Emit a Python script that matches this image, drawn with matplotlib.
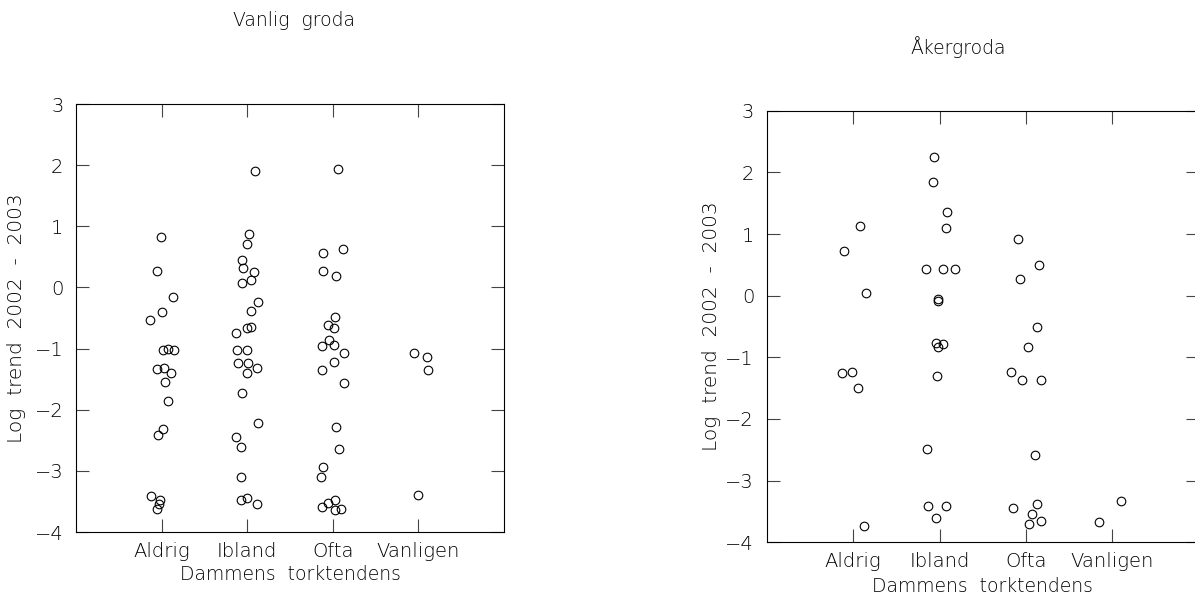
import numpy as np
import matplotlib.pyplot as plt

plt.rcParams['font.family'] = ['DejaVu Sans']
plt.rcParams['font.weight'] = 'light'
plt.rcParams['axes.labelweight'] = 'light'

# kategorier på x-axeln
kategorier = ["Aldrig", "Ibland", "Ofta", "Vanligen"]

# Vanlig groda: (x med jitter, log trend)
vanlig_x = [0.99, 0.95, 1.13, 1.00, 0.87, 1.02, 1.08, 1.14, 0.95, 1.03, 1.11, 1.04,
            1.08, 1.02, 0.96, 0.88, 0.98, 0.97, 0.95,
            2.09, 2.02, 2.00, 1.94, 1.95, 2.08, 2.04, 1.94, 2.13, 2.05, 2.00, 2.05,
            1.87, 1.88, 2.00, 1.89, 2.01, 2.11, 2.00, 1.94, 2.13, 1.87, 1.93, 1.93,
            1.93, 2.00, 2.12,
            3.06, 2.88, 3.12, 2.89, 3.04, 3.02, 2.94, 3.01, 2.96, 2.87, 3.01, 3.13,
            3.01, 2.87, 3.13, 3.04, 3.07, 2.88, 2.86, 3.03, 2.94, 2.87, 3.02, 3.10,
            3.95, 4.10, 4.11, 4.00]
vanlig_y = [0.82, 0.27, -0.16, -0.41, -0.54, -1.03, -1.01, -1.03, -1.34, -1.32, -1.40, -1.55,
            -1.86, -2.32, -2.41, -3.41, -3.48, -3.54, -3.62,
            1.91, 0.87, 0.71, 0.45, 0.32, 0.26, 0.12, 0.07, -0.24, -0.38, -0.67, -0.65,
            -0.74, -1.03, -1.03, -1.23, -1.24, -1.31, -1.40, -1.73, -2.22, -2.44, -2.61, -3.10,
            -3.48, -3.44, -3.54,
            1.94, 0.56, 0.63, 0.27, 0.18, -0.49, -0.61, -0.66, -0.86, -0.95, -0.94, -1.07,
            -1.22, -1.35, -1.56, -2.29, -2.64, -2.93, -3.10, -3.48, -3.53, -3.59, -3.64, -3.62,
            -1.07, -1.14, -1.35, -3.39]

# Åkergroda
aker_x = [1.08, 0.90, 1.15, 0.87, 0.99, 1.06, 1.13,
          1.94, 1.93, 2.09, 2.07, 1.84, 2.04, 2.18, 1.98, 1.98, 1.96, 2.04, 1.98,
          1.97, 1.85, 1.87, 2.08, 1.96,
          2.91, 3.15, 2.93, 3.13, 3.02, 2.83, 2.95, 3.18, 3.11, 2.85, 3.13, 3.07,
          3.18, 3.04,
          3.85, 4.10]
aker_y = [1.13, 0.73, 0.04, -1.25, -1.23, -1.50, -3.73,
          2.25, 1.85, 1.36, 1.10, 0.43, 0.43, 0.44, -0.05, -0.08, -0.77, -0.78, -0.84,
          -1.31, -2.49, -3.41, -3.41, -3.60,
          0.92, 0.50, 0.27, -0.51, -0.83, -1.23, -1.36, -1.36, -2.58, -3.45, -3.38, -3.54,
          -3.65, -3.71,
          -3.67, -3.33]

W, H = 1195, 595
fig = plt.figure(figsize=(W / 100, H / 100), dpi=100)

textfarg = 'black'
fs = 13.5


def rita_panel(rect, xs, ys, titel, titel_pos, ylab_x, xlab_y):
    ax = fig.add_axes(rect)
    ax.plot(xs, ys, 'o', ms=6.2, mfc='none', mec='black', mew=0.8)
    ax.set_xlim(0, 5)
    ax.set_ylim(-4, 3)
    ax.set_xticks(range(1, 5))
    ax.set_xticklabels(kategorier)
    ax.set_yticks(range(-4, 4))
    ax.set_yticklabels([str(v).replace('-', '\u2212') for v in range(-4, 4)])
    ax.tick_params(direction='in', length=9.5, width=0.8, color='#444444',
                   top=True, right=True, labelsize=fs + 0.5, labelcolor=textfarg)
    ax.tick_params(axis='x', pad=7)
    ax.tick_params(axis='y', pad=9)
    for s in ax.spines.values():
        s.set_linewidth(0.8)
        s.set_color('black')
    ax.set_xlabel("Dammens  torktendens", fontsize=fs, color=textfarg)
    ax.set_ylabel("Log  trend  2002  -  2003", fontsize=fs + 1, color=textfarg)
    ax.xaxis.set_label_coords(0.5, xlab_y)
    ax.yaxis.set_label_coords(ylab_x, 0.5)
    fig.text(titel_pos[0] / W, 1 - titel_pos[1] / H, titel, ha='center', va='center',
             fontsize=fs, color=textfarg)
    return ax


rita_panel([76 / W, 1 - 532 / H, 428 / W, 428 / H], vanlig_x, vanlig_y,
           "Vanlig  groda", (294, 20), -0.117, -0.077)
rita_panel([766.7 / W, 1 - 542.3 / H, 432 / W, 431.6 / H], aker_x, aker_y,
           "Åkergroda", (958, 47), -0.105, -0.080)

fig.savefig("out.png", dpi=100)
